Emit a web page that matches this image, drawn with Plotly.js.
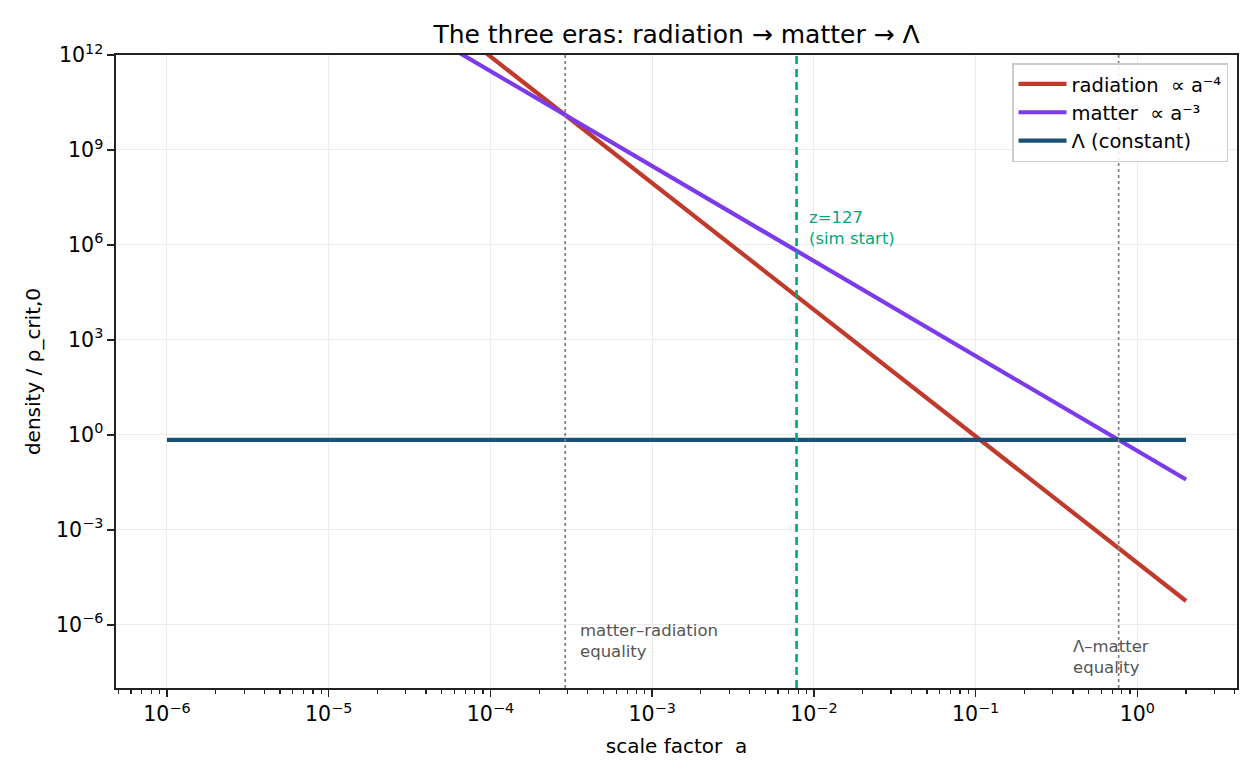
<!DOCTYPE html>
<html>
<head>
<meta charset="utf-8">
<script src="https://cdn.plot.ly/plotly-3.0.1.min.js"></script>
<style>html,body{margin:0;padding:0;background:#fff;}#chart{width:1260px;height:780px;}</style>
</head>
<body>
<div id="chart"></div>
<script>
// ---- data ----
const scaleFactor = [1e-6, 2];
const radiation = [9.0e19, 5.6e-6];     // ∝ a^-4
const matter = [3.1e17, 0.03875];       // ∝ a^-3
const lambdaDensity = [0.69, 0.69];     // constant
const aMatterRadiationEq = 2.9e-4;
const aLambdaMatterEq = 0.766;
const aSimStart = 0.0078125;            // z = 127
const yLimits = [1e-8, 1e12];
const xTickVals = [1e-6, 1e-5, 1e-4, 1e-3, 1e-2, 1e-1, 1];
const xTickText = ['10<sup>−6</sup>', '10<sup>−5</sup>', '10<sup>−4</sup>', '10<sup>−3</sup>', '10<sup>−2</sup>', '10<sup>−1</sup>', '10<sup>0</sup>'];
const yTickVals = [1e-6, 1e-3, 1, 1e3, 1e6, 1e9, 1e12];
const yTickText = ['10<sup>−6</sup>', '10<sup>−3</sup>', '10<sup>0</sup>', '10<sup>3</sup>', '10<sup>6</sup>', '10<sup>9</sup>', '10<sup>12</sup>'];

const FONT = 'DejaVu Sans, Liberation Sans, sans-serif';

const traces = [
  {x: scaleFactor, y: radiation, mode: 'lines', name: 'radiation \u00a0∝ a⁻⁴',
   line: {color: '#c0392b', width: 4.2}},
  {x: scaleFactor, y: matter, mode: 'lines', name: 'matter \u00a0∝ a⁻³',
   line: {color: '#7c3aed', width: 4.2}},
  {x: scaleFactor, y: lambdaDensity, mode: 'lines', name: 'Λ (constant)',
   line: {color: '#1a5276', width: 4.2}},
  {x: [aMatterRadiationEq, aMatterRadiationEq], y: yLimits, mode: 'lines', showlegend: false,
   line: {color: '#808080', width: 1.7, dash: 'dot'}},
  {x: [aLambdaMatterEq, aLambdaMatterEq], y: yLimits, mode: 'lines', showlegend: false,
   line: {color: '#808080', width: 1.7, dash: 'dot'}},
  {x: [aSimStart, aSimStart], y: yLimits, mode: 'lines', showlegend: false,
   line: {color: '#00a878', width: 2.6, dash: '8px,5px'}}
];

const layout = {
  width: 1260, height: 780,
  margin: {l: 116, r: 23, t: 55, b: 92},
  paper_bgcolor: '#fff', plot_bgcolor: '#fff',
  font: {family: FONT, color: '#000', size: 20},
  showlegend: true,
  title: {text: 'The three eras: radiation → matter → Λ', font: {size: 25, family: FONT, color: '#000'},
          x: 0.5, xref: 'paper', xanchor: 'center', y: 1 - 34/780, yanchor: 'middle', yref: 'container'},
  xaxis: {
    type: 'log', range: [-6.315, 0.616],
    tickmode: 'array', tickvals: xTickVals, ticktext: xTickText,
    ticks: 'outside', ticklen: 7, tickwidth: 1.6, tickcolor: '#222',
    showline: true, linecolor: '#222', linewidth: 1.6, mirror: true,
    showgrid: true, gridcolor: '#ececec', gridwidth: 1,
    zeroline: false,
    tickfont: {size: 20.5, family: FONT, color: '#000'},
    minor: {ticks: 'outside', ticklen: 4, tickwidth: 1.2, tickcolor: '#222', dtick: 'D1', showgrid: false},
    title: {text: 'scale factor \u00a0a', font: {size: 20, family: FONT, color: '#000'}, standoff: 14}
  },
  yaxis: {
    type: 'log', range: [-8, 12],
    tickmode: 'array', tickvals: yTickVals, ticktext: yTickText,
    ticks: 'outside', ticklen: 7, tickwidth: 1.6, tickcolor: '#222',
    showline: true, linecolor: '#222', linewidth: 1.6, mirror: true,
    showgrid: true, gridcolor: '#ececec', gridwidth: 1,
    zeroline: false,
    tickfont: {size: 20.5, family: FONT, color: '#000'},
    title: {text: 'density / ρ_crit,0', font: {size: 20, family: FONT, color: '#000'}, standoff: 10}
  },
  legend: {
    x: 0.992, xanchor: 'right', y: 0.987, yanchor: 'top',
    bgcolor: 'rgba(255,255,255,0.85)', bordercolor: '#cccccc', borderwidth: 1.5,
    font: {size: 19.5, family: FONT, color: '#000'},
    itemwidth: 48, tracegroupgap: 0
  },
  annotations: [
    {x: Math.log10(0.009), y: 6.54, xref: 'x', yref: 'y', text: 'z=127<br>(sim start)',
     showarrow: false, xanchor: 'left', yanchor: 'middle', align: 'left',
     font: {size: 16.5, family: FONT, color: '#00a878'}},
    {x: Math.log10(3.5e-4), y: -6.5, xref: 'x', yref: 'y', text: 'matter–radiation<br>equality',
     showarrow: false, xanchor: 'left', yanchor: 'middle', align: 'left',
     font: {size: 16.5, family: FONT, color: '#555555'}},
    {x: Math.log10(0.388), y: -7.02, xref: 'x', yref: 'y', text: 'Λ–matter<br>equality',
     showarrow: false, xanchor: 'left', yanchor: 'middle', align: 'left',
     font: {size: 16.5, family: FONT, color: '#555555'}}
  ]
};

Plotly.newPlot('chart', traces, layout, {displayModeBar: false, staticPlot: true});
</script>
</body>
</html>
